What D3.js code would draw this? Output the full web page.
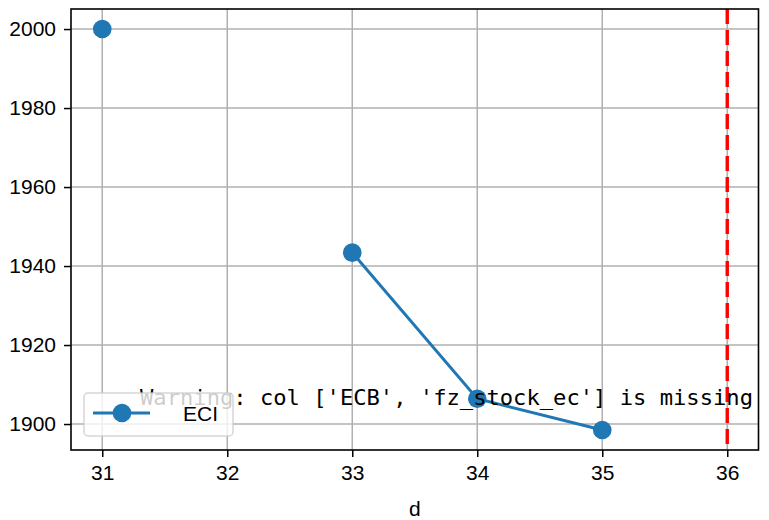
<!DOCTYPE html>
<html><head><meta charset="utf-8">
<script src="https://cdn.jsdelivr.net/npm/d3@7"></script>
<style>body{margin:0;background:#fff}svg{display:block}</style>
</head><body>
<svg id="c" width="769" height="520"></svg>
<script>
const xs = [31, 32, 33, 34, 35];
const eci = [2000, null, 1943.4, 1906.4, 1898.5];
const xTicks = [31, 32, 33, 34, 35, 36];
const yTicks = [1900, 1920, 1940, 1960, 1980, 2000];
const vline = 36;
const seriesName = "ECI";
const xLabel = "d";
const warning = "Warning: col ['ECB', 'fz_stock_ec'] is missing";

const svg = d3.select("#c");
const L = 71, R = 758.5, T = 9, B = 450;
const font = "'Liberation Sans', 'Noto Sans CJK SC', sans-serif";

const x = d3.scaleLinear().domain([30.75, 36.25]).range([L, R]);
const ymin = 1898.5, ymax = 2000, pad = (ymax - ymin) * 0.05;
const y = d3.scaleLinear().domain([ymin - pad, ymax + pad]).range([B, T]);

// grid
svg.append("g").selectAll("line").data(xTicks).join("line")
  .attr("x1", d => x(d)).attr("x2", d => x(d)).attr("y1", T).attr("y2", B)
  .attr("stroke", "#b0b0b0").attr("stroke-width", 1.5);
svg.append("g").selectAll("line").data(yTicks).join("line")
  .attr("y1", d => y(d)).attr("y2", d => y(d)).attr("x1", L).attr("x2", R)
  .attr("stroke", "#b0b0b0").attr("stroke-width", 1.5);

// axes
const xa = svg.append("g").attr("transform", `translate(0,${B})`)
  .call(d3.axisBottom(x).tickValues(xTicks).tickFormat(d3.format("d")).tickSize(7).tickPadding(8));
const ya = svg.append("g").attr("transform", `translate(${L},0)`)
  .call(d3.axisLeft(y).tickValues(yTicks).tickFormat(d3.format("d")).tickSize(7).tickPadding(8));
[xa, ya].forEach(a => {
  a.select(".domain").remove();
  a.selectAll("line").attr("stroke", "#000").attr("stroke-width", 1.5);
  a.selectAll("text").attr("fill", "#000").style("font-family", font).style("font-size", "21px");
});

// line
const pts = xs.map((d, i) => ({x: d, y: eci[i]}));
svg.append("path").datum(pts)
  .attr("d", d3.line().defined(d => d.y != null).x(d => x(d.x)).y(d => y(d.y)))
  .attr("fill", "none").attr("stroke", "#1f77b4").attr("stroke-width", 3);
svg.append("g").selectAll("circle").data(pts.filter(d => d.y != null)).join("circle")
  .attr("cx", d => x(d.x)).attr("cy", d => y(d.y)).attr("r", 9.3).attr("fill", "#1f77b4");

// vertical line
svg.append("line").attr("x1", x(vline)).attr("x2", x(vline)).attr("y1", T).attr("y2", B)
  .attr("stroke", "red").attr("stroke-width", 3.4).attr("stroke-dasharray", "15,6");

// warning text
svg.append("text").attr("x", 140).attr("y", 405).attr("textLength", 613).attr("lengthAdjust", "spacingAndGlyphs")
  .style("font-family", "'DejaVu Sans Mono', monospace").style("font-size", "21px").attr("fill", "#000")
  .text(warning);

// legend
const lg = svg.append("g");
lg.append("rect").attr("x", 84).attr("y", 393).attr("width", 149).attr("height", 43).attr("rx", 4)
  .attr("fill", "white").attr("fill-opacity", 0.8).attr("stroke", "#cccccc").attr("stroke-opacity", 0.8).attr("stroke-width", 1.5);
lg.append("line").attr("x1", 93).attr("x2", 150).attr("y1", 413).attr("y2", 413)
  .attr("stroke", "#1f77b4").attr("stroke-width", 3);
lg.append("circle").attr("cx", 122).attr("cy", 413).attr("r", 9.3).attr("fill", "#1f77b4");
lg.append("text").attr("x", 183).attr("y", 421).style("font-family", font).style("font-size", "21px").text(seriesName);

// frame
svg.append("rect").attr("x", L).attr("y", T).attr("width", R - L).attr("height", B - T)
  .attr("fill", "none").attr("stroke", "#000").attr("stroke-width", 1.6);

// x label
svg.append("text").attr("x", (L + R) / 2).attr("y", 516).attr("text-anchor", "middle")
  .style("font-family", font).style("font-size", "21px").text(xLabel);
</script>
</body></html>
